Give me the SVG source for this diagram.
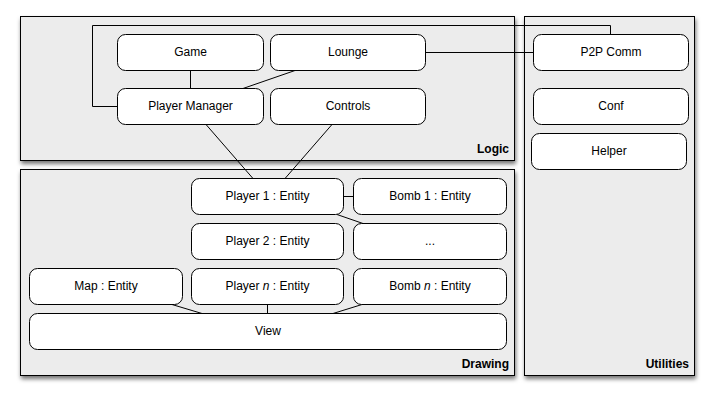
<svg xmlns="http://www.w3.org/2000/svg" width="715" height="400" viewBox="0 0 715 400">
<defs>
<filter id="sh" x="-10%" y="-10%" width="130%" height="130%">
<feDropShadow dx="1" dy="3" stdDeviation="2" flood-color="#000" flood-opacity="0.55"/>
</filter>
</defs>
<style>
.cont{fill:#ececec;stroke:#000;stroke-width:1;filter:url(#sh)}
.node rect{fill:#fff;stroke:#000;stroke-width:1}
.node text{font-family:"Liberation Sans",Arial,sans-serif;font-size:12px;text-anchor:middle;fill:#000}
.lbl{font-family:"Liberation Sans",Arial,sans-serif;font-size:12px;font-weight:bold;text-anchor:end;fill:#000}
.conn path{fill:none;stroke:#000;stroke-width:1}
</style>
<rect width="715" height="400" fill="#fff"/>
<g id="logic"><rect class="cont" x="20.5" y="16.5" width="494" height="144"/><text class="lbl" x="509" y="153">Logic</text></g>
<g id="drawing"><rect class="cont" x="20.5" y="169.5" width="494" height="206"/><text class="lbl" x="509" y="368">Drawing</text></g>
<g id="utilities"><rect class="cont" x="524.5" y="16.5" width="170" height="359"/><text class="lbl" x="689" y="368">Utilities</text></g>
<g class="conn" id="connectors">
<path d="M190.5 70.5V88.5"/>
<path d="M295 70.5L243 88.5"/>
<path d="M117.5 106.5H92.5V25.5H610.5V34.5"/>
<path d="M426 52.5H533.5"/>
<path d="M206 124.5L253 178.5"/>
<path d="M332 124.5L285 178.5"/>
<path d="M343.5 196.5H353.5"/>
<path d="M337 214.5L363 223.5"/>
<path d="M267.5 304.5V313.5"/>
<path d="M362 304.5L333 313.5"/>
<path d="M172 304.5L202 313.5"/>
</g>
<g class="node" id="game"><rect x="117.5" y="34.5" width="146" height="36" rx="8"/><text x="190.5" y="56">Game</text></g>
<g class="node" id="lounge"><rect x="270.5" y="34.5" width="155" height="36" rx="8"/><text x="348" y="56">Lounge</text></g>
<g class="node" id="playermanager"><rect x="117.5" y="88.5" width="146" height="36" rx="8"/><text x="190.5" y="110">Player Manager</text></g>
<g class="node" id="controls"><rect x="270.5" y="88.5" width="155" height="36" rx="8"/><text x="348" y="110">Controls</text></g>
<g class="node" id="p2p"><rect x="533.5" y="34.5" width="155" height="36" rx="8"/><text x="611" y="56">P2P Comm</text></g>
<g class="node" id="conf"><rect x="533.5" y="88.5" width="155" height="36" rx="8"/><text x="611" y="110">Conf</text></g>
<g class="node" id="helper"><rect x="531.5" y="133.5" width="155" height="36" rx="8"/><text x="609" y="155">Helper</text></g>
<g class="node" id="player1"><rect x="191.5" y="178.5" width="152" height="36" rx="8"/><text x="267.5" y="200">Player 1 : Entity</text></g>
<g class="node" id="bomb1"><rect x="353.5" y="178.5" width="153" height="36" rx="8"/><text x="430" y="200">Bomb 1 : Entity</text></g>
<g class="node" id="player2"><rect x="191.5" y="223.5" width="152" height="36" rx="8"/><text x="267.5" y="245">Player 2 : Entity</text></g>
<g class="node" id="dots"><rect x="353.5" y="223.5" width="153" height="36" rx="8"/><text x="430" y="245">...</text></g>
<g class="node" id="map"><rect x="29.5" y="268.5" width="153" height="36" rx="8"/><text x="106" y="290">Map : Entity</text></g>
<g class="node" id="playern"><rect x="191.5" y="268.5" width="152" height="36" rx="8"/><text x="267.5" y="290">Player <tspan font-style="italic">n</tspan> : Entity</text></g>
<g class="node" id="bombn"><rect x="353.5" y="268.5" width="153" height="36" rx="8"/><text x="430" y="290">Bomb <tspan font-style="italic">n</tspan> : Entity</text></g>
<g class="node" id="view"><rect x="29.5" y="313.5" width="477" height="36" rx="8"/><text x="268" y="335">View</text></g>
</svg>
